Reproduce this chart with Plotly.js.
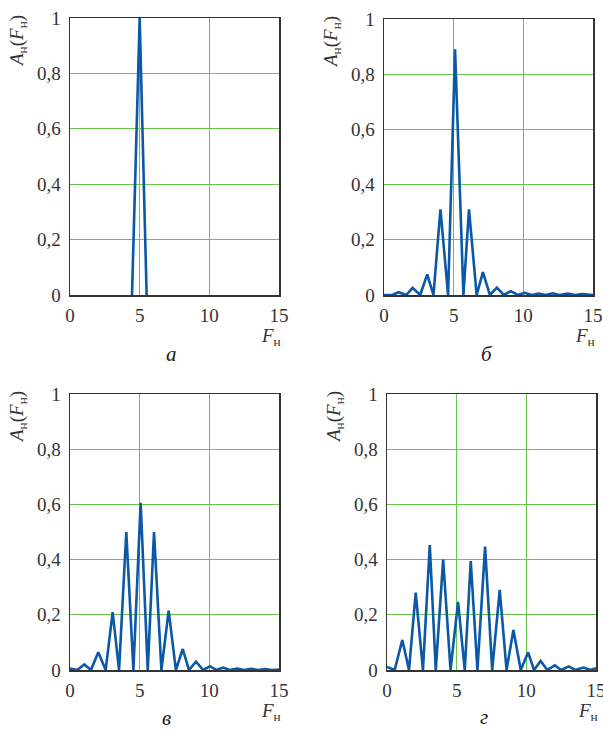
<!DOCTYPE html>
<html>
<head>
<meta charset="utf-8">
<script src="https://cdn.plot.ly/plotly-3.0.1.min.js"></script>
<style>html,body{margin:0;padding:0;background:#fff;}#chart{width:603px;height:731px;}</style>
</head>
<body>
<div id="chart"></div>
<script>
// Panel а
var xA = [4.45, 5.0, 5.5];
var yA = [0, 1, 0];
// Panel б
var xB = [0, 0.6, 1.05, 1.6, 2.05, 2.6, 3.1, 3.55, 4.05, 4.6, 5.1, 5.7, 6.1, 6.65, 7.1, 7.6, 8.1, 8.6, 9.1, 9.6, 10.1, 10.6, 11.1, 11.6, 12.1, 12.6, 13.2, 13.7, 14.2, 14.7, 15];
var yB = [0, 0, 0.01, 0, 0.026, 0, 0.075, 0, 0.31, 0, 0.89, 0, 0.31, 0, 0.083, 0, 0.027, 0, 0.014, 0, 0.008, 0, 0.005, 0, 0.006, 0, 0.005, 0, 0.003, 0, 0];
// Panel в
var xC = [0, 0.52, 1.03, 1.5, 2.03, 2.56, 3.06, 3.52, 4.04, 4.55, 5.07, 5.58, 6.03, 6.56, 7.08, 7.6, 8.09, 8.54, 9.04, 9.57, 10.05, 10.5, 11.0, 11.45, 12.0, 12.5, 13.0, 13.5, 14.0, 14.5, 15];
var yC = [0.005, 0, 0.02, 0, 0.064, 0, 0.21, 0, 0.50, 0, 0.606, 0, 0.50, 0, 0.215, 0, 0.076, 0, 0.03, 0, 0.014, 0, 0.009, 0, 0.005, 0, 0.004, 0, 0.003, 0, 0.002];
// Panel г
var xD = [0, 0.55, 1.1, 1.58, 2.06, 2.58, 3.07, 3.5, 4.03, 4.56, 5.1, 5.58, 6.01, 6.49, 7.04, 7.55, 8.09, 8.58, 9.07, 9.6, 10.13, 10.55, 11.03, 11.5, 12.04, 12.5, 13.05, 13.5, 14.1, 14.6, 15];
var yD = [0.011, 0, 0.109, 0, 0.28, 0, 0.453, 0, 0.40, 0, 0.247, 0, 0.395, 0, 0.447, 0, 0.29, 0, 0.145, 0, 0.064, 0, 0.033, 0, 0.017, 0, 0.013, 0, 0.009, 0, 0.006];

var xTickVals = [0, 5, 10, 15];
var yTickVals = [0, 0.2, 0.4, 0.6, 0.8, 1];
var yTickText = ['0', '0,2', '0,4', '0,6', '0,8', '1'];
var panelLetters = ['а', 'б', 'в', 'г'];
var yTitle = '<i>A</i><sub>н</sub>(<i>F</i><sub>н</sub>)';
var xTitle = '<i>F</i><sub>н</sub>';

var W = 603, H = 731;
var FONT = '"Liberation Serif", "DejaVu Serif", serif';
var lineColor = '#0a58a6';
var gridColor = '#66c54a';
var frameColor = '#333333';

// pixel boxes [left, right, top, bottom]
var boxes = [
  [70, 279, 18, 295],
  [384, 593, 19, 295],
  [70, 279, 394, 670],
  [387, 596, 394, 670]
];
var letterPos = [[171, 354], [487, 354], [166, 718], [484, 717]];
var series = [[xA, yA], [xB, yB], [xC, yC], [xD, yD]];

var data = [];
var layout = {
  width: W, height: H,
  margin: {l: 0, r: 0, t: 0, b: 0},
  paper_bgcolor: '#fff', plot_bgcolor: '#fff',
  showlegend: false,
  separators: ', ',
  font: {family: FONT, size: 19, color: '#333'},
  annotations: []
};

boxes.forEach(function (b, i) {
  var n = i === 0 ? '' : String(i + 1);
  data.push({
    x: series[i][0], y: series[i][1],
    xaxis: 'x' + n, yaxis: 'y' + n,
    type: 'scatter', mode: 'lines',
    line: {color: lineColor, width: 2.6},
    hoverinfo: 'none'
  });
  var common = {
    showline: true, mirror: true, linecolor: frameColor, linewidth: 1.5,
    showgrid: true, gridcolor: gridColor, gridwidth: 1,
    zeroline: false, ticks: '', fixedrange: true,
    ticklabeloverflow: 'allow',
    tickfont: {family: FONT, size: 19, color: '#333'}
  };
  layout['xaxis' + n] = Object.assign({}, common, {
    domain: [b[0] / W, b[1] / W],
    range: [0, 15], tickmode: 'array', tickvals: xTickVals,
    anchor: 'y' + n, ticklabelstandoff: 3
  });
  layout['yaxis' + n] = Object.assign({}, common, {
    domain: [1 - b[3] / H, 1 - b[2] / H],
    range: [0, 1], tickmode: 'array', tickvals: yTickVals, ticktext: yTickText,
    anchor: 'x' + n, ticklabelstandoff: 4
  });
  // y axis title
  layout.annotations.push({
    xref: 'paper', yref: 'paper',
    x: (b[0] - 52) / W, y: 1 - (b[2] - 5) / H,
    xanchor: 'center', yanchor: 'top',
    text: yTitle, textangle: -90, showarrow: false,
    font: {family: FONT, size: 19, color: '#333'}
  });
  // x axis title
  layout.annotations.push({
    xref: 'paper', yref: 'paper',
    x: (b[1] + 4) / W, y: 1 - (b[3] + 42) / H,
    xanchor: 'right', yanchor: 'middle',
    text: xTitle, showarrow: false,
    font: {family: FONT, size: 19, color: '#333'}
  });
  // panel letter
  layout.annotations.push({
    xref: 'paper', yref: 'paper',
    x: letterPos[i][0] / W, y: 1 - letterPos[i][1] / H,
    xanchor: 'center', yanchor: 'middle',
    text: '<i>' + panelLetters[i] + '</i>', showarrow: false,
    font: {family: FONT, size: 21, color: '#222'}
  });
});

Plotly.newPlot('chart', data, layout, {staticPlot: true, displayModeBar: false});
</script>
</body>
</html>
